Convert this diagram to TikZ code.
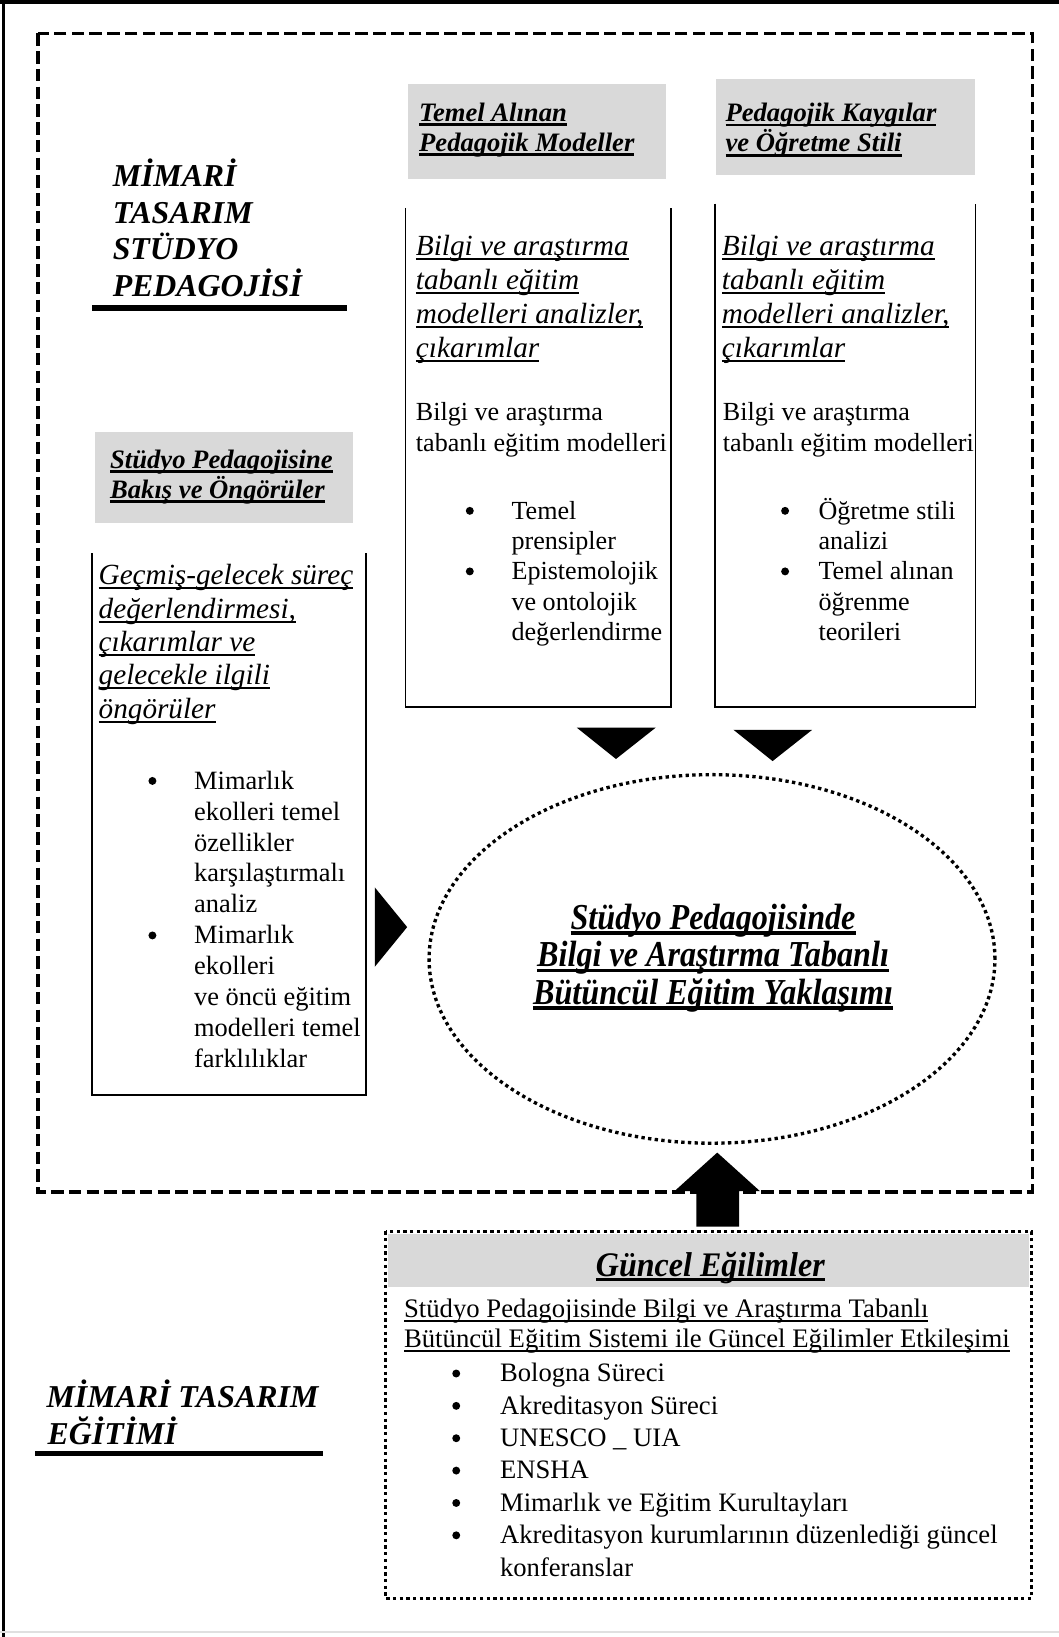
\documentclass[tikz,border=0pt]{standalone}
\usepackage{fontspec}
\setmainfont{Liberation Serif}
\newfontfamily\condfont{Liberation Serif}[FakeStretch=0.88]
\newfontfamily\condfontb{Liberation Serif}[FakeStretch=0.93]
\usetikzlibrary{shapes.geometric}
\definecolor{hdrgray}{RGB}{217,217,217}
\newcommand\uln[3]{\setbox0=\hbox{#3}\rlap{\rule[-#1]{\wd0}{#2}}\box0}
\newcommand\ulh[1]{\uln{4.6pt}{2.8pt}{#1}}
\newcommand\ulb[1]{\uln{4.4pt}{1.9pt}{#1}}
\newcommand\ule[1]{\uln{5.4pt}{3.6pt}{#1}}
\newcommand\blk[1]{\vtop{\lineskiplimit=-1000pt\lineskip=0pt\halign{##\hfil\cr#1\crcr}}}
\newcommand\blkc[1]{\vtop{\lineskiplimit=-1000pt\lineskip=0pt\halign{\hfil##\hfil\cr#1\crcr}}}
\tikzset{
  txt/.style={inner sep=0pt, outer sep=0pt, anchor=base west},
  ctr/.style={inner sep=0pt, outer sep=0pt, anchor=base},
  bulletdot/.style={circle, fill=black, draw=none, inner sep=0pt, minimum size=7.6pt},
  hdrbox/.style={fill=hdrgray, draw=none},
  openbox/.style={line width=1.6pt},
  dashedframe/.style={line width=3.6pt, dash pattern=on 12pt off 5pt},
  dottedframe/.style={line width=3.2pt, dash pattern=on 3.2pt off 3.2pt},
  blackshape/.style={fill=black, draw=none},
  titlefont/.style={font=\fontsize{30.5}{35}\selectfont\bfseries\itshape},
  hdrfont/.style={font=\fontsize{25.5}{29}\selectfont\bfseries\itshape},
  itfont/.style={font=\fontsize{28}{32.4}\selectfont\itshape},
  bodyfont/.style={font=\fontsize{25}{29.6}\selectfont},
  listfont/.style={font=\fontsize{25}{29}\selectfont},
}
\begin{document}
\begin{tikzpicture}[x=1pt,y=-1pt]
\useasboundingbox (0,0) rectangle (1014,1568);
\fill[white] (0,0) rectangle (1014,1568);
% outer frame
\draw[line width=3.8pt] (0,1.9) -- (1014,1.9);
\draw[line width=3.2pt] (3.2,0) -- (3.2,1568);
\draw[line width=2pt, black!12] (0,1563.5) -- (1014,1563.5);

% dashed frame
\draw[dashedframe] (36.5,32) rectangle (989,1141.5);

% title 1
\node[txt, titlefont] (t1) at (108,179) {\blk{MİMARİ\cr TASARIM\cr STÜDYO\cr PEDAGOJİSİ}};
\fill (88,292.3) rectangle (332,297.7);

% header boxes
\fill[hdrbox] (391,80) rectangle (638,171.5);
\node[txt, hdrfont] (h1) at (401.5,116) {\blk{\ulh{Temel Alınan}\cr\ulh{Pedagojik Modeller}}};
\fill[hdrbox] (685.5,76) rectangle (933.5,167.5);
\node[txt, hdrfont] (h2) at (695,116.5) {\blk{\ulh{Pedagojik Kaygılar}\cr\ulh{ve Öğretme Stili}}};

% open box 1
\draw[openbox] (388.5,199) -- (388.5,677.3) -- (642.5,677.3) -- (642.5,199);
\node[txt, itfont] (i1) at (398.4,245) {\blk{\ulb{Bilgi ve araştırma}\cr\ulb{tabanlı eğitim}\cr\ulb{modelleri analizler,}\cr\ulb{çıkarımlar}}};
\node[txt, bodyfont] (b1) at (398.4,403) {\blk{Bilgi ve araştırma\cr tabanlı eğitim modelleri}};
\node[txt, listfont] (l1) at (490,497.3) {\blk{Temel\cr prensipler\cr Epistemolojik\cr ve ontolojik\cr değerlendirme}};
\node[bulletdot] (l1a) at (450,489.3) {};
\node[bulletdot] (l1b) at (450,547.3) {};

% open box 2
\draw[openbox] (684.7,195) -- (684.7,677.3) -- (934.5,677.3) -- (934.5,195);
\node[txt, itfont] (i2) at (691.5,245) {\blk{\ulb{Bilgi ve araştırma}\cr\ulb{tabanlı eğitim}\cr\ulb{modelleri analizler,}\cr\ulb{çıkarımlar}}};
\node[txt, bodyfont] (b2) at (692.5,403) {\blk{Bilgi ve araştırma\cr tabanlı eğitim modelleri}};
\node[txt, listfont] (l2) at (784,497.3) {\blk{Öğretme stili\cr analizi\cr Temel alınan\cr öğrenme\cr teorileri}};
\node[bulletdot] (l2a) at (752,489.3) {};
\node[bulletdot] (l2b) at (752,547.3) {};

% left column
\fill[hdrbox] (91,414) rectangle (337.7,501);
\node[txt, hdrfont] (h3) at (105.5,448.5) {\blk{\ulh{Stüdyo Pedagojisine}\cr\ulh{Bakış ve Öngörüler}}};
\draw[openbox] (87.8,530) -- (87.8,1049) -- (350.5,1049) -- (350.5,530);
\node[txt, font=\fontsize{28}{32}\selectfont\itshape] (i3) at (94.5,560) {\blk{\ulb{Geçmiş-gelecek süreç}\cr\ulb{değerlendirmesi,}\cr\ulb{çıkarımlar ve}\cr\ulb{gelecekle ilgili}\cr\ulb{öngörüler}}};
\node[txt, font=\fontsize{25.3}{29.6}\selectfont] (l3) at (186,756) {\blk{Mimarlık\cr ekolleri temel\cr özellikler\cr karşılaştırmalı\cr analiz\cr Mimarlık\cr ekolleri\cr ve öncü eğitim\cr modelleri temel\cr farklılıklar}};
\node[bulletdot] (l3a) at (146,748) {};
\node[bulletdot] (l3b) at (146,896) {};

% arrows / triangles
\fill[blackshape] (359,850) -- (390,888) -- (359,926) -- cycle;
\fill[blackshape] (552.5,697) -- (628,697) -- (590,727) -- cycle;
\fill[blackshape] (702.5,699) -- (778,699) -- (740,729) -- cycle;

% central ellipse
\node[draw, dottedframe, ellipse, minimum width=542pt, minimum height=353pt, inner sep=0pt] (ell) at (682,918.5) {};
\node[ctr, font=\fontsize{35}{36}\selectfont\condfont\bfseries\itshape] (etext) at (683,890) {\blkc{\ule{Stüdyo Pedagojisinde}\cr\ule{Bilgi ve Araştırma Tabanlı}\cr\ule{Bütüncül Eğitim Yaklaşımı}}};

% up arrow
\fill[blackshape] (667,1175) -- (667,1141) -- (646,1141) -- (687,1104) -- (728,1141) -- (708,1141) -- (708,1175) -- cycle;

% trends box
\fill[hdrbox] (372,1182) rectangle (986,1232.5);
\draw[dottedframe] (369.5,1179.5) rectangle (988,1531);
\node[ctr, font=\fontsize{33}{36}\selectfont\condfontb\bfseries\itshape] (gh) at (680.4,1222.4) {\uln{5pt}{3pt}{Güncel Eğilimler}};
\node[txt, font=\fontsize{25.6}{29}\selectfont] (gb) at (387,1262) {\blk{\ulb{Stüdyo Pedagojisinde Bilgi ve Araştırma Tabanlı}\cr\ulb{Bütüncül Eğitim Sistemi ile Güncel Eğilimler Etkileşimi}}};
\node[txt, font=\fontsize{25.5}{31}\selectfont] (gl) at (479,1323.6) {\blk{Bologna Süreci\cr Akreditasyon Süreci\cr UNESCO \_ UIA\cr ENSHA\cr Mimarlık ve Eğitim Kurultayları\cr Akreditasyon kurumlarının düzenlediği güncel\cr konferanslar}};
\foreach \k in {0,...,5} {
  \node[bulletdot] (gbul\k) at (437,{1315.6+31*\k}) {};
}

% title 2
\node[txt, titlefont] (t2) at (44.7,1348.5) {\blk{MİMARİ TASARIM\cr\hspace{1pt}EĞİTİMİ}};
\fill (33.5,1389.5) rectangle (309,1394.5);
\end{tikzpicture}
\end{document}
